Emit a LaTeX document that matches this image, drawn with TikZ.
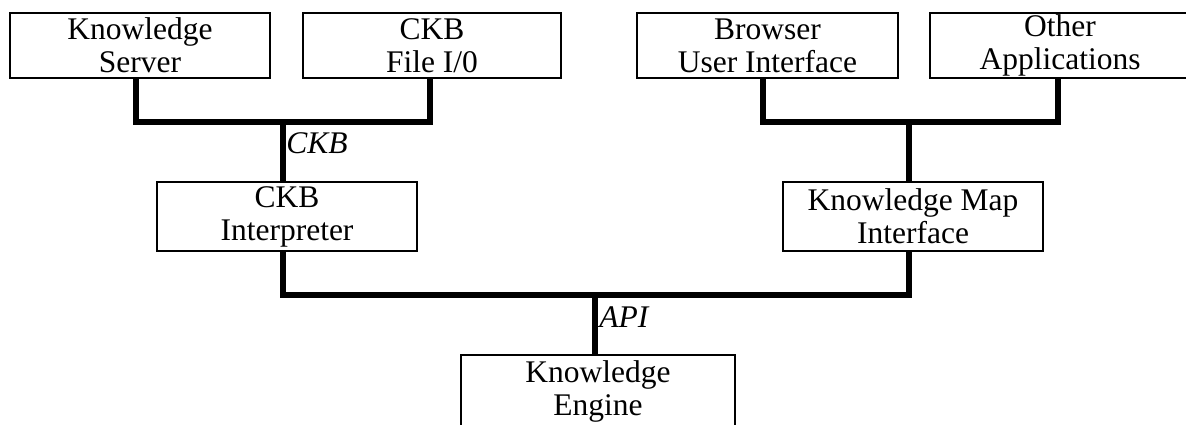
\documentclass[tikz,border=0pt]{standalone}
\usepackage{fontspec}
\setmainfont{Liberation Serif}
\begin{document}
\begin{tikzpicture}[x=0.5pt,y=-0.5pt,
  box/.style={draw, line width=1pt, inner sep=0pt, align=center,
    font=\fontsize{15.75pt}{16.5pt}\selectfont, minimum height=32.5pt},
  conn/.style={line width=3pt, line join=miter},
  lab/.style={inner sep=0pt, font=\fontsize{15.75pt}{16.5pt}\selectfont\itshape}]
\useasboundingbox (0,0) rectangle (1186,424);
% top row
\node[box, minimum width=130pt] (ks) at (140,45.5) {Knowledge\\Server};
\node[box, minimum width=129pt] (cf) at (432,45.5) {CKB\\File I/0};
\node[box, minimum width=130.5pt] (bu) at (767.5,45.5) {Browser\\User Interface};
\node[box, minimum width=130pt] (oa) at (1060,45.5) {Other\\Applications};
% middle row
\node[box, minimum width=130pt, minimum height=34.5pt] (ci) at (287,216.5) {CKB\\Interpreter};
\node[box, minimum width=130pt, minimum height=34.5pt] (km) at (913,216.5) {Knowledge Map\\Interface};
% bottom
\node[box, minimum width=137pt, minimum height=36pt] (ke) at (598,391) {Knowledge\\Engine};
% junctions
\coordinate (j1) at (283,122);
\coordinate (j2) at (909,122);
\coordinate (j3) at (595,295);
% connectors
\draw[conn] (ks.south -| 136,0) |- (j1) -| (cf.south -| 430,0);
\draw[conn] (j1) -- (ci.north -| j1);
\draw[conn] (bu.south -| 763,0) |- (j2) -| (oa.south -| 1058,0);
\draw[conn] (j2) -- (km.north -| j2);
\draw[conn] (ci.south -| j1) |- (j3) -| (km.south -| j2);
\draw[conn] (j3) -- (ke.north -| j3);
% labels
\node[lab, anchor=base west] (lckb) at (286,153) {CKB};
\node[lab, anchor=base west] (lapi) at (599,327) {API};
\end{tikzpicture}
\end{document}
